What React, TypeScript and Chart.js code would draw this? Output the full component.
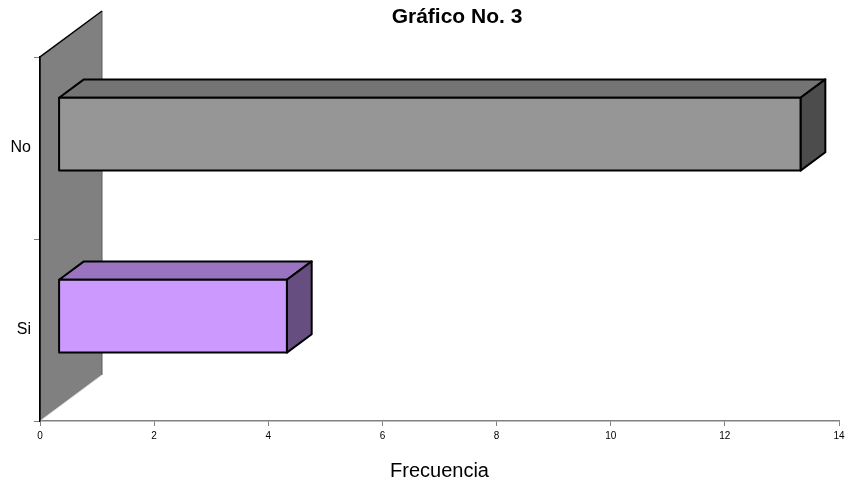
import React, { useEffect, useRef } from "react";
import { Chart, registerables } from "chart.js";

Chart.register(...registerables);

const categories: string[] = ["No", "Si"];
const frecuencia: number[] = [13, 4];
const xTickMin = 0;
const xTickMax = 14;
const xTickStep = 2;
const chartTitle = "Gráfico No. 3";
const xAxisTitle = "Frecuencia";

const frontColors = ["#969696", "#cc99ff"];
const topColors = ["#747474", "#9a74c0"];
const sideColors = ["#4c4c4c", "#664f80"];

const FONT = "'Liberation Sans', Arial, Helvetica, sans-serif";
const DEPTH_X = 62;
const DEPTH_Y = 46;
const FRONT_T = 0.3;
const BACK_T = 0.7;

const threeDPlugin = {
  id: "threeD",
  afterDatasetsDraw(chart: any) {
    const ctx = chart.ctx;
    const area = chart.chartArea;
    const xScale = chart.scales.x;
    const x0 = xScale.getPixelForValue(0);
    // back wall
    ctx.save();
    ctx.beginPath();
    ctx.moveTo(x0, area.top);
    ctx.lineTo(x0 + DEPTH_X, area.top - DEPTH_Y);
    ctx.lineTo(x0 + DEPTH_X, area.bottom - DEPTH_Y);
    ctx.lineTo(x0, area.bottom);
    ctx.closePath();
    ctx.fillStyle = "#808080";
    ctx.fill();
    ctx.lineWidth = 1;
    ctx.strokeStyle = "#5a5a5a";
    ctx.beginPath();
    ctx.moveTo(x0 + DEPTH_X, area.top - DEPTH_Y);
    ctx.lineTo(x0 + DEPTH_X, area.bottom - DEPTH_Y);
    ctx.stroke();
    ctx.strokeStyle = "#e0e0e0";
    ctx.beginPath();
    ctx.moveTo(x0 + DEPTH_X, area.bottom - DEPTH_Y);
    ctx.lineTo(x0, area.bottom);
    ctx.stroke();
    ctx.strokeStyle = "#000000";
    ctx.lineWidth = 1.5;
    ctx.beginPath();
    ctx.moveTo(x0, area.bottom);
    ctx.lineTo(x0, area.top);
    ctx.lineTo(x0 + DEPTH_X, area.top - DEPTH_Y);
    ctx.stroke();

    // 3D bars
    const meta = chart.getDatasetMeta(0);
    const fx = DEPTH_X * FRONT_T;
    const fy = DEPTH_Y * FRONT_T;
    const bx = DEPTH_X * BACK_T;
    const by = DEPTH_Y * BACK_T;
    meta.data.forEach((el: any, i: number) => {
      const p = el.getProps(["x", "y", "height", "base"], true);
      const base = p.base;
      const fL = base + fx, fR = p.x + fx;
      const fT = p.y - p.height / 2 - fy, fB = p.y + p.height / 2 - fy;
      const bL = base + bx, bR = p.x + bx;
      const bT = p.y - p.height / 2 - by, bB = p.y + p.height / 2 - by;
      ctx.lineWidth = 2;
      ctx.lineJoin = "round";
      ctx.strokeStyle = "#000000";
      // top
      ctx.beginPath();
      ctx.moveTo(fL, fT);
      ctx.lineTo(bL, bT);
      ctx.lineTo(bR, bT);
      ctx.lineTo(fR, fT);
      ctx.closePath();
      ctx.fillStyle = topColors[i];
      ctx.fill();
      ctx.stroke();
      // side
      ctx.beginPath();
      ctx.moveTo(fR, fT);
      ctx.lineTo(bR, bT);
      ctx.lineTo(bR, bB);
      ctx.lineTo(fR, fB);
      ctx.closePath();
      ctx.fillStyle = sideColors[i];
      ctx.fill();
      ctx.stroke();
      // front
      ctx.beginPath();
      ctx.rect(fL, fT, fR - fL, fB - fT);
      ctx.fillStyle = frontColors[i];
      ctx.fill();
      ctx.stroke();
    });

    // title
    ctx.fillStyle = "#000000";
    ctx.font = "bold 21px " + FONT;
    ctx.textAlign = "center";
    ctx.textBaseline = "middle";
    ctx.fillText(chartTitle, 457, 17);
    ctx.restore();
  },
};

export default function App() {
  const ref = useRef<HTMLCanvasElement | null>(null);
  useEffect(() => {
    if (!ref.current) return;
    const chart = new Chart(ref.current, {
      type: "bar",
      data: {
        labels: categories,
        datasets: [
          {
            label: xAxisTitle,
            data: frecuencia,
            backgroundColor: "rgba(0,0,0,0)",
            borderWidth: 0,
            barPercentage: 0.4,
            categoryPercentage: 1,
          },
        ],
      },
      options: {
        indexAxis: "y",
        animation: false,
        responsive: false,
        devicePixelRatio: 1,
        layout: { padding: { top: 57, right: 6, left: 0, bottom: 0 } },
        plugins: {
          legend: { display: false },
          title: { display: false },
          tooltip: { enabled: false },
        },
        scales: {
          x: {
            type: "linear",
            min: xTickMin,
            max: xTickMax,
            ticks: {
              stepSize: xTickStep,
              color: "#000000",
              font: { family: FONT, size: 10 },
              padding: 4,
              maxRotation: 0,
            },
            grid: { drawOnChartArea: false, tickLength: 5, color: "#808080", lineWidth: 1 },
            border: { color: "#808080", width: 1.5 },
            title: {
              display: true,
              text: xAxisTitle,
              color: "#000000",
              font: { family: FONT, size: 20 },
              padding: { top: 0, bottom: 0 },
            },
            afterFit: (s: any) => {
              s.height = 62;
              s.paddingLeft = 0;
              s.paddingRight = 0;
            },
          },
          y: {
            type: "category",
            ticks: {
              color: "#000000",
              font: { family: FONT, size: 16 },
              padding: 3,
            },
            grid: { drawOnChartArea: false, offset: true, tickLength: 6, color: "#808080", lineWidth: 1 },
            border: { color: "#000000", width: 1.5 },
            afterFit: (s: any) => {
              s.width = 40;
            },
          },
        },
      },
      plugins: [threeDPlugin],
    });
    return () => chart.destroy();
  }, []);
  return (
    <div style={{ position: "absolute", left: 0, top: 0, width: 845, height: 483, background: "#ffffff" }}>
      <canvas ref={ref} width={845} height={483} />
    </div>
  );
}
